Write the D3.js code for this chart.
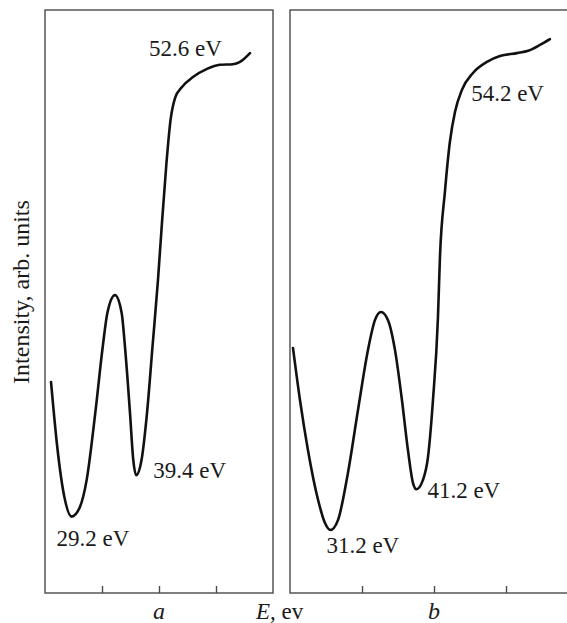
<!DOCTYPE html>
<html>
<head>
<meta charset="utf-8">
<script src="https://cdn.jsdelivr.net/npm/d3@7/dist/d3.min.js"></script>
<style>
  body { margin: 0; background: #fff; }
  svg { display: block; }
  text { font-family: "Liberation Serif", "Times New Roman", serif; fill: #1a1a1a; }
</style>
</head>
<body>
<svg id="chart" width="567" height="623"></svg>
<script>
// Spectrum (a): energy in eV, intensity in arbitrary units
const energyA = [25.95, 26.94, 28.05, 29.2, 30.53, 31.58, 32.94, 34.11, 34.84, 36.05,
                 37.11, 37.63, 38.42, 38.94, 39.4, 40.24, 41.11, 41.97, 42.84, 43.39,
                 44.18, 44.82, 45.53, 46.63, 48.37, 50.58, 52.6, 54.68, 55.79, 57.37];
const intensityA = [36.2, 25.0, 16.5, 13.1, 14.8, 19.4, 30.9, 42.2, 48.0, 51.1,
                    48.0, 42.2, 30.9, 22.8, 20.2, 22.8, 30.9, 42.2, 53.7, 62.3,
                    73.8, 81.1, 84.9, 86.8, 88.5, 89.9, 90.6, 90.7, 91.1, 92.6];

// Spectrum (b)
const energyB = [26.85, 27.66, 28.59, 29.76, 30.57, 31.2, 32.08, 33.24, 34.41, 35.57,
                 36.38, 37.08, 37.90, 38.71, 39.52, 40.22, 40.80, 41.2, 41.97, 42.55,
                 43.13, 43.71, 43.94, 44.52, 45.10, 45.69, 46.50, 47.78, 49.41, 50.92,
                 52.90, 54.2, 55.57, 56.73];
const intensityB = [42.0, 33.1, 24.5, 16.0, 12.0, 10.8, 12.5, 20.6, 31.4, 41.7,
                    46.8, 48.2, 46.8, 41.7, 33.1, 24.5, 18.9, 17.8, 19.4, 23.3,
                    33.1, 47.3, 57.5, 68.8, 77.4, 82.5, 86.3, 89.2, 91.1, 92.1,
                    92.6, 93.0, 94.0, 95.0];

// Energies marked with a value label on each spectrum
const markedA = [29.2, 39.4, 52.6];
const markedB = [31.2, 41.2, 54.2];

// Panel captions and axis captions
const panelNames = ["a", "b"];
const axisTitleX = "E";
const axisUnitX = ", ev";
const axisTitleY = "Intensity, arb. units";

const svg = d3.select("#chart");
const plotTop = 10, plotBottom = 593;
const labelSize = 23;

const panels = [
  { name: panelNames[0], energy: energyA, intensity: intensityA, marked: markedA,
    left: 45, right: 273, domain: [25, 61],
    offsets: [[-15, 29], [17, 3], [2, -9]], anchors: ["start", "start", "end"] },
  { name: panelNames[1], energy: energyB, intensity: intensityB, marked: markedB,
    left: 290, right: 578, domain: [26.5, 60],
    offsets: [[-4, 23], [11, 9], [-57, 50]], anchors: ["start", "start", "start"] }
];

const y = d3.scaleLinear().domain([0, 100]).range([plotBottom, plotTop]);

panels.forEach(p => {
  const x = d3.scaleLinear().domain(p.domain).range([p.left, p.right]);
  const g = svg.append("g");

  // frame
  g.append("rect")
    .attr("x", p.left).attr("y", plotTop)
    .attr("width", p.right - p.left).attr("height", plotBottom - plotTop)
    .attr("fill", "none").attr("stroke", "#4a4a4a").attr("stroke-width", 1.4);

  // inward ticks at quarter intervals along the energy axis
  const [d0, d1] = p.domain;
  const tickVals = [1, 2, 3].map(i => d0 + i * (d1 - d0) / 4);
  const axis = d3.axisBottom(x).tickValues(tickVals).tickSize(-7).tickFormat("");
  const ag = g.append("g").attr("transform", `translate(0,${plotBottom})`).call(axis);
  ag.select(".domain").remove();
  ag.selectAll(".tick line").attr("stroke", "#4a4a4a").attr("stroke-width", 1.4);

  // spectrum curve
  const pts = p.energy.map((e, i) => [e, p.intensity[i]]);
  const line = d3.line()
    .x(d => x(d[0])).y(d => y(d[1]))
    .curve(d3.curveMonotoneX);
  g.append("path").datum(pts)
    .attr("d", line)
    .attr("fill", "none").attr("stroke", "#111")
    .attr("stroke-width", 2.6).attr("stroke-linejoin", "round").attr("stroke-linecap", "round");

  // value labels
  p.marked.forEach((e, i) => {
    const idx = p.energy.indexOf(e);
    const v = p.intensity[idx];
    g.append("text")
      .attr("x", x(e) + p.offsets[i][0])
      .attr("y", y(v) + p.offsets[i][1])
      .attr("text-anchor", p.anchors[i])
      .attr("font-size", labelSize)
      .text(`${e} eV`);
  });

  // panel caption
  g.append("text")
    .attr("x", x((d0 + d1) / 2)).attr("y", 619)
    .attr("text-anchor", "middle").attr("font-size", 24)
    .attr("font-style", "italic")
    .text(p.name);
});

// energy axis caption between panels
const et = svg.append("text").attr("x", 256).attr("y", 619).attr("font-size", labelSize);
et.append("tspan").attr("font-style", "italic").text(axisTitleX);
et.append("tspan").text(axisUnitX);

// intensity axis caption
svg.append("text")
  .attr("transform", "translate(29,292) rotate(-90)")
  .attr("text-anchor", "middle").attr("font-size", 24)
  .text(axisTitleY);
</script>
</body>
</html>
